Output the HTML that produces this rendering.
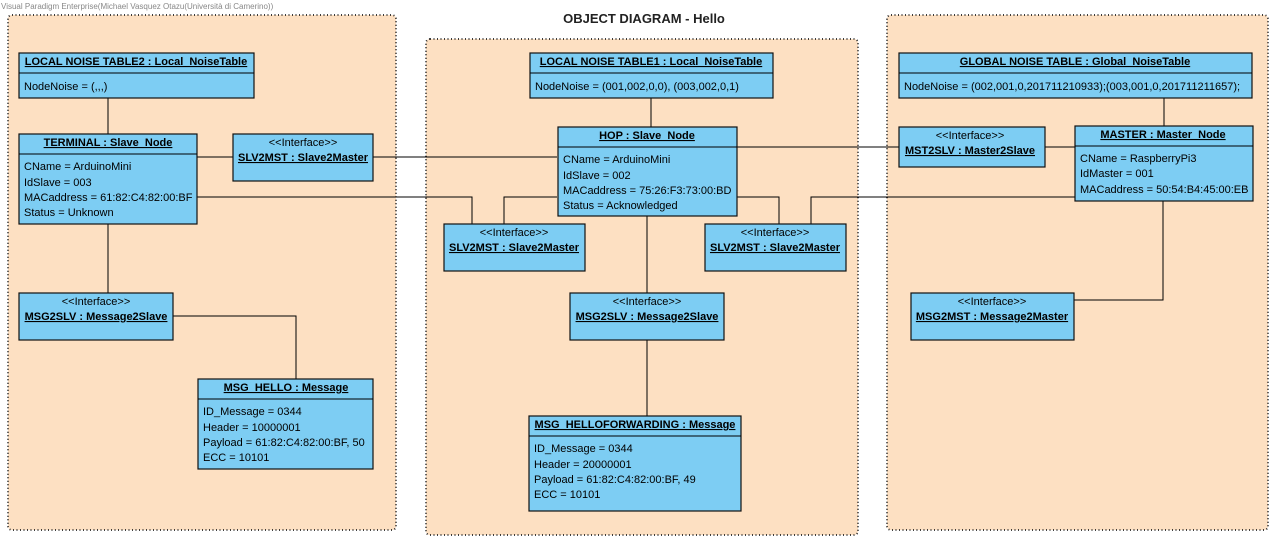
<!DOCTYPE html>
<html><head><meta charset="utf-8"><style>
body{margin:0;width:1278px;height:544px;background:#fff;overflow:hidden}
svg{font-family:"Liberation Sans",sans-serif;font-size:11px}
.b{fill:#7dcdf3;stroke:#111;stroke-width:1.2}
.c{fill:#fde0c2;stroke:#222;stroke-width:1.8;stroke-dasharray:1 2.5}
.h{font-weight:bold;text-decoration:underline;text-anchor:middle}
.m{text-anchor:middle}
line,polyline{stroke:#000;stroke-width:1;fill:none}
</style></head><body>
<svg width="1278" height="544" xmlns="http://www.w3.org/2000/svg">
<text x="1" y="9" font-size="8" fill="#888">Visual Paradigm Enterprise(Michael Vasquez Otazu(Università di Camerino))</text>
<text x="644" y="23" class="m" font-size="13" font-weight="bold" fill="#222">OBJECT DIAGRAM - Hello</text>
<rect class="c" x="8" y="15" width="388" height="515" rx="4"/>
<rect class="c" x="426" y="39" width="432" height="496" rx="4"/>
<rect class="c" x="887" y="15" width="381" height="515" rx="4"/>

<line x1="108" y1="98" x2="108" y2="134"/>
<line x1="197" y1="157" x2="233" y2="157"/>
<line x1="373" y1="157" x2="557" y2="157"/>
<polyline points="197,197 472,197 472,224"/>
<polyline points="557,197 504,197 504,224"/>
<polyline points="737,197 779,197 779,224"/>
<polyline points="1075,197 811,197 811,224"/>
<line x1="737" y1="147" x2="899" y2="147"/>
<line x1="1045" y1="147" x2="1075" y2="147"/>
<line x1="108" y1="224" x2="108" y2="293"/>
<polyline points="173,316 296,316 296,379"/>
<line x1="651" y1="98" x2="651" y2="127"/>
<line x1="647" y1="216" x2="647" y2="293"/>
<line x1="647" y1="340" x2="647" y2="416"/>
<line x1="1164" y1="98" x2="1164" y2="126"/>
<polyline points="1163,201 1163,300 1074,300"/>

<rect class="b" x="19" y="53" width="235" height="45"/><line x1="19" y1="73" x2="254" y2="73"/>
<text x="136" y="65" class="h">LOCAL NOISE TABLE2 : Local_NoiseTable</text>
<text x="24" y="90">NodeNoise = (,,,)</text>
<rect class="b" x="19" y="134" width="178" height="90"/><line x1="19" y1="154" x2="197" y2="154"/>
<text x="108" y="146" class="h">TERMINAL : Slave_Node</text>
<text x="24" y="170">CName = ArduinoMini</text>
<text x="24" y="186">IdSlave = 003</text>
<text x="24" y="201">MACaddress = 61:82:C4:82:00:BF</text>
<text x="24" y="216">Status = Unknown</text>
<rect class="b" x="233" y="134" width="140" height="47"/>
<text x="303" y="146" class="m">&lt;&lt;Interface&gt;&gt;</text>
<text x="303" y="161" class="h">SLV2MST : Slave2Master</text>
<rect class="b" x="19" y="293" width="154" height="47"/>
<text x="96" y="305" class="m">&lt;&lt;Interface&gt;&gt;</text>
<text x="96" y="320" class="h">MSG2SLV : Message2Slave</text>
<rect class="b" x="198" y="379" width="175" height="90"/><line x1="198" y1="399" x2="373" y2="399"/>
<text x="286" y="391" class="h">MSG_HELLO : Message</text>
<text x="203" y="415">ID_Message = 0344</text>
<text x="203" y="431">Header = 10000001</text>
<text x="203" y="446">Payload = 61:82:C4:82:00:BF, 50</text>
<text x="203" y="461">ECC = 10101</text>

<rect class="b" x="530" y="53" width="243" height="45"/><line x1="530" y1="73" x2="773" y2="73"/>
<text x="651" y="65" class="h">LOCAL NOISE TABLE1 : Local_NoiseTable</text>
<text x="535" y="90">NodeNoise = (001,002,0,0), (003,002,0,1)</text>
<rect class="b" x="558" y="127" width="179" height="89"/><line x1="558" y1="147" x2="737" y2="147"/>
<text x="647" y="139" class="h">HOP : Slave_Node</text>
<text x="563" y="163">CName = ArduinoMini</text>
<text x="563" y="179">IdSlave = 002</text>
<text x="563" y="194">MACaddress = 75:26:F3:73:00:BD</text>
<text x="563" y="209">Status = Acknowledged</text>
<rect class="b" x="444" y="224" width="141" height="47"/>
<text x="514" y="236" class="m">&lt;&lt;Interface&gt;&gt;</text>
<text x="514" y="251" class="h">SLV2MST : Slave2Master</text>
<rect class="b" x="705" y="224" width="141" height="47"/>
<text x="775" y="236" class="m">&lt;&lt;Interface&gt;&gt;</text>
<text x="775" y="251" class="h">SLV2MST : Slave2Master</text>
<rect class="b" x="570" y="293" width="154" height="47"/>
<text x="647" y="305" class="m">&lt;&lt;Interface&gt;&gt;</text>
<text x="647" y="320" class="h">MSG2SLV : Message2Slave</text>
<rect class="b" x="529" y="416" width="212" height="95"/><line x1="529" y1="436" x2="741" y2="436"/>
<text x="635" y="428" class="h">MSG_HELLOFORWARDING : Message</text>
<text x="534" y="452">ID_Message = 0344</text>
<text x="534" y="468">Header = 20000001</text>
<text x="534" y="483">Payload = 61:82:C4:82:00:BF, 49</text>
<text x="534" y="498">ECC = 10101</text>

<rect class="b" x="899" y="53" width="353" height="45"/><line x1="899" y1="73" x2="1252" y2="73"/>
<text x="1075" y="65" class="h">GLOBAL NOISE TABLE : Global_NoiseTable</text>
<text x="904" y="90">NodeNoise = (002,001,0,201711210933);(003,001,0,201711211657);</text>
<rect class="b" x="899" y="127" width="146" height="40"/>
<text x="970" y="139" class="m">&lt;&lt;Interface&gt;&gt;</text>
<text x="970" y="154" class="h">MST2SLV : Master2Slave</text>
<rect class="b" x="1075" y="126" width="178" height="75"/><line x1="1075" y1="146" x2="1253" y2="146"/>
<text x="1163" y="138" class="h">MASTER : Master_Node</text>
<text x="1080" y="162">CName = RaspberryPi3</text>
<text x="1080" y="177">IdMaster = 001</text>
<text x="1080" y="193">MACaddress = 50:54:B4:45:00:EB</text>
<rect class="b" x="911" y="293" width="163" height="47"/>
<text x="992" y="305" class="m">&lt;&lt;Interface&gt;&gt;</text>
<text x="992" y="320" class="h">MSG2MST : Message2Master</text>
</svg>
</body></html>
